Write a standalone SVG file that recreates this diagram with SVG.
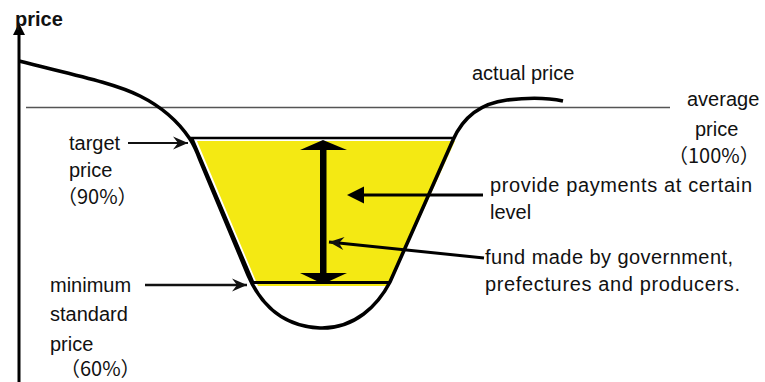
<svg xmlns="http://www.w3.org/2000/svg" width="765" height="382" viewBox="0 0 765 382">
<defs>
<style>
text{font-family:"Liberation Sans","Noto Sans CJK JP",sans-serif;font-size:20px;fill:#111}
.b{font-weight:bold}
.cj{font-family:"Noto Sans CJK JP","Liberation Sans",sans-serif}
.k{stroke:#000;fill:none}
</style>
<marker id="st" viewBox="-16 -7 17 14" refX="0" refY="0" markerWidth="17" markerHeight="14" markerUnits="userSpaceOnUse" orient="auto">
<path d="M0,0 L-15,-6.5 L-10,0 L-15,6.5 Z" fill="#111"/>
</marker>
</defs>
<rect width="765" height="382" fill="#fff"/>
<g id="avgline"><line x1="26" y1="107.5" x2="670" y2="107.5" stroke="#555" stroke-width="1.3"/></g>
<g id="band">
<polygon points="197,141 455,141 389,286 258,286" fill="#F4E913"/>
<polyline points="453,138 192,138 253,282" class="k" stroke-width="2.6"/>
<line x1="251" y1="282.5" x2="391" y2="282.5" stroke="#000" stroke-width="3"/>
</g>
<g id="curve">
<path d="M19,61 C70,74 115,83 140,96 C160,106 178,121 190,139 C194,145 197,152 200,160 L248,275 C256,294 275,326 320,328 C355,329 378,305 390,282 L453,140 C460,124 475,104 507,100 Q540,96 563,101" class="k" stroke-width="3.6"/>
</g>
<g id="axis">
<line x1="19" y1="382" x2="19" y2="32" stroke="#000" stroke-width="3"/>
<polygon points="19,23 13,35 25,35" fill="#000"/>
<text class="b" x="15" y="25.5">price</text>
</g>
<g id="range">
<rect x="320" y="149" width="6.5" height="125" fill="#000"/>
<polygon points="323,140 300,150 347,150" fill="#000"/>
<polygon points="323,284 300,273 347,273" fill="#000"/>
</g>
<g id="connectors">
<line x1="128" y1="143" x2="188" y2="143" stroke="#111" stroke-width="2" marker-end="url(#st)"/>
<line x1="145" y1="285" x2="247" y2="285" stroke="#111" stroke-width="2.5" marker-end="url(#st)"/>
<line x1="483" y1="195" x2="362" y2="195" stroke="#000" stroke-width="3"/>
<polygon points="347,195 364,186.5 364,203.5" fill="#000"/>
<line x1="484" y1="258" x2="329" y2="242" stroke="#000" stroke-width="3" marker-end="url(#st)"/>
</g>
<g id="label-actual"><text x="472" y="80">actual price</text></g>
<g id="label-average">
<text x="687" y="106">average</text>
<text x="695" y="136">price</text>
<text class="cj" x="668" y="163">（100%）</text>
</g>
<g id="label-target">
<text x="69" y="150">target</text>
<text x="69" y="177">price</text>
<text class="cj" x="57" y="204">（90%）</text>
</g>
<g id="label-minimum">
<text x="50" y="292">minimum</text>
<text x="50" y="321">standard</text>
<text x="50" y="351">price</text>
<text class="cj" x="60" y="376">（60%）</text>
</g>
<g id="label-provide">
<text x="490" y="192" textLength="262">provide payments at certain</text>
<text x="490" y="219">level</text>
</g>
<g id="label-fund">
<text x="485" y="264" textLength="248">fund made by government,</text>
<text x="485" y="291" textLength="255">prefectures and producers.</text>
</g>
</svg>
